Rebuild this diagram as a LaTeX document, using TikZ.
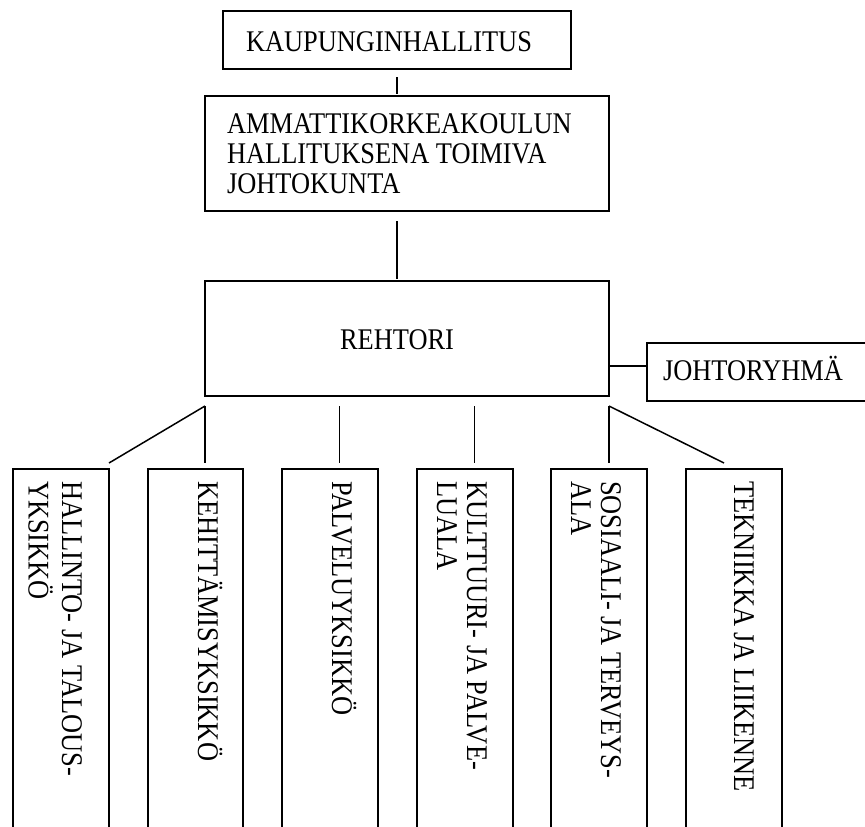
\documentclass[tikz,border=0pt]{standalone}
\usepackage{fontspec}
\setmainfont{Liberation Serif}[FakeStretch=0.88]
\usetikzlibrary{calc}
\begin{document}
\begin{tikzpicture}[x=1pt,y=-1pt,
  box/.style={draw, line width=1.5pt, inner sep=0pt, outer sep=0pt},
  lbl/.style={inner sep=0pt, outer sep=0pt, font=\fontsize{30}{30}\selectfont},
  link/.style={line width=1.5pt}]
\useasboundingbox (0,0) rectangle (865,827);
\fill[white] (0,0) rectangle (865,827);
\clip (0,0) rectangle (865,827);

% upper chain of boxes
\node[box, anchor=north west, minimum width=348pt, minimum height=58pt] (kaup) at (223,11) {};
\node[lbl, anchor=base west] (kauptxt) at (246,51) {KAUPUNGINHALLITUS};

\node[box, anchor=north west, minimum width=404pt, minimum height=115pt] (amk) at (205,96) {};
\node[lbl, anchor=base west] (amktxt) at (227,133)
  {\begin{tabular}[t]{@{}l@{}}AMMATTIKORKEAKOULUN\\HALLITUKSENA TOIMIVA\\JOHTOKUNTA\end{tabular}};

\node[box, anchor=north west, minimum width=404pt, minimum height=115pt] (rehtori) at (205,281) {};
\node[lbl, anchor=base] (rehtoritxt) at (397,349) {REHTORI};

\node[box, anchor=north west, minimum width=230pt, minimum height=58pt] (johto) at (647,343) {};
\node[lbl, anchor=base west] (johtotxt) at (663,380) {JOHTORYHMÄ};

% units below the rector
\node[box, anchor=north west, minimum width=96pt, minimum height=380pt] (u1) at (13,469) {};
\node[box, anchor=north west, minimum width=95pt, minimum height=380pt] (u2) at (148,469) {};
\node[box, anchor=north west, minimum width=96pt, minimum height=380pt] (u3) at (282,469) {};
\node[box, anchor=north west, minimum width=96pt, minimum height=380pt] (u4) at (417,469) {};
\node[box, anchor=north west, minimum width=96pt, minimum height=380pt] (u5) at (551,469) {};
\node[box, anchor=north west, minimum width=96pt, minimum height=380pt] (u6) at (686,469) {};

\node[lbl, rotate=-90, anchor=base west] (t1) at (62,481)
  {\begin{tabular}[t]{@{}l@{}}HALLINTO- JA TALOUS-\\YKSIKKÖ\end{tabular}};
\node[lbl, rotate=-90, anchor=base west] (t2) at (198,481) {KEHITTÄMISYKSIKKÖ};
\node[lbl, rotate=-90, anchor=base west] (t3) at (332,481) {PALVELUYKSIKKÖ};
\node[lbl, rotate=-90, anchor=base west] (t4) at (467,481)
  {\begin{tabular}[t]{@{}l@{}}KULTTUURI- JA PALVE-\\LUALA\end{tabular}};
\node[lbl, rotate=-90, anchor=base west] (t5) at (601,481)
  {\begin{tabular}[t]{@{}l@{}}SOSIAALI- JA TERVEYS-\\ALA\end{tabular}};
\node[lbl, rotate=-90, anchor=base west] (t6) at (734,481) {TEKNIIKKA JA LIIKENNE};

% connectors
\draw[link] ([yshift=-8pt]kaup.south) -- ([yshift=2pt]kaup.south |- amk.north);
\draw[link] ([yshift=-10pt]kaup.south |- amk.south) -- ([yshift=2pt]kaup.south |- rehtori.north);
\draw[link] ([yshift=6pt]johto.west -| rehtori.east) -- ([yshift=6pt]johto.west);

\coordinate (r0) at ([yshift=-10pt]rehtori.south west);
\coordinate (r1) at ($([yshift=-10pt]rehtori.south west)!1/3!([yshift=-10pt]rehtori.south east)$);
\coordinate (r2) at ($([yshift=-10pt]rehtori.south west)!2/3!([yshift=-10pt]rehtori.south east)$);
\coordinate (r3) at ([yshift=-10pt]rehtori.south east);

\draw[link] (r0) -- ([yshift=6pt]u1.north east);
\draw[link] (r0) -- ([yshift=6pt]r0 |- u2.north);
\draw[link] (r1) -- ([yshift=6pt]r1 |- u3.north);
\draw[link] (r2) -- ([yshift=6pt]r2 |- u4.north);
\draw[link] (r3) -- ([yshift=6pt]r3 |- u5.north);
\draw[link] (r3) -- ([shift={(38pt,6pt)}]u6.north west);
\end{tikzpicture}
\end{document}
